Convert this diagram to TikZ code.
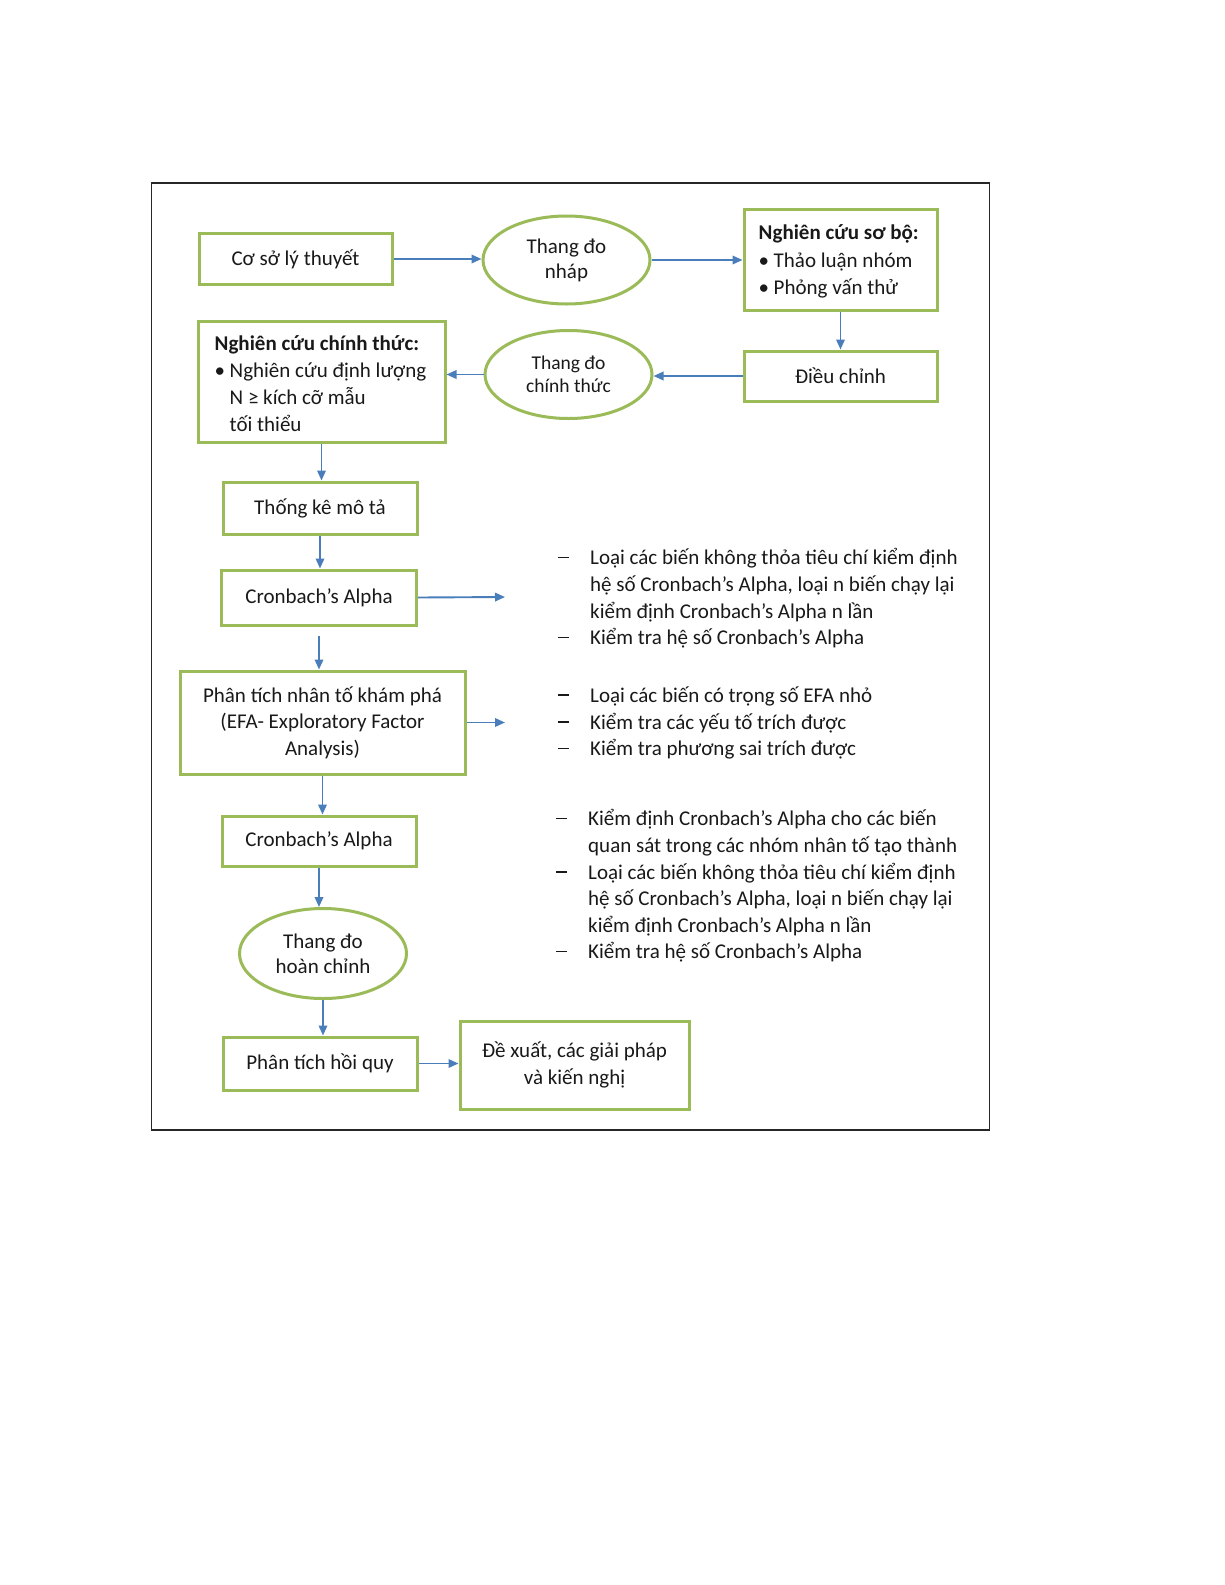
\documentclass[tikz,border=0pt]{standalone}
\usepackage{fontspec}
\setmainfont{Carlito}
\usetikzlibrary{shapes.geometric,arrows.meta}
\definecolor{boxgreen}{HTML}{9BBB59}
\definecolor{arrblue}{HTML}{4A7EBB}
\tikzset{
  stepbox/.style={draw=boxgreen, line width=3pt, fill=white, inner sep=0pt, text=black!90,
    font=\fontsize{21}{26.5}\selectfont, align=center},
  stepell/.style={ellipse, draw=boxgreen, line width=3pt, fill=white, inner sep=0pt, text=black!90,
    font=\fontsize{21}{25}\selectfont, align=center},
  boxtext/.style={inner sep=0pt, anchor=west, align=left, text=black!90, font=\fontsize{21}{27.5}\selectfont},
  arr/.style={draw=arrblue, line width=1.9pt, -{Triangle[length=10pt,width=8.5pt]}},
  notes/.style={inner sep=0pt, anchor=west, align=left, text=black!90, font=\fontsize{21}{26.6}\selectfont}
}
\newcommand{\dsh}{\makebox[32pt][l]{\rule[6.5pt]{10.5pt}{1.6pt}}}
\newcommand{\ind}{\hspace*{32pt}}
\newcommand{\bul}{\makebox[15pt][l]{•}}
\newcommand{\bind}{\hspace*{15pt}}
\begin{document}
\begin{tikzpicture}[x=1pt,y=-1pt]
\useasboundingbox (0,0) rectangle (1225,1585);
\fill[white] (0,0) rectangle (1225,1585);
\draw[line width=1.6pt, black!85] (151.5,183) rectangle (989.5,1130);

\node[stepbox, minimum width=193pt, minimum height=51pt] (cs) at (295.5,259) {Cơ sở lý thuyết};
\node[stepell, minimum width=167pt, minimum height=88pt] (e1) at (566.5,260) {Thang đo\\nháp};
\node[stepbox, minimum width=193pt, minimum height=101pt] (sb) at (840.5,259.5) {};
\node[boxtext] (sbt) at ([xshift=16pt,yshift=-2pt]sb.west)
  {\textbf{Nghiên cứu sơ bộ:}\\\bul Thảo luận nhóm\\\bul Phỏng vấn thử};
\node[stepbox, minimum width=193pt, minimum height=50pt] (dc) at (840.5,376) {Điều chỉnh};
\node[stepell, minimum width=167pt, minimum height=88pt, font=\fontsize{19.5}{23}\selectfont] (e2) at (568.5,374.5) {Thang đo\\chính thức};
\node[stepbox, minimum width=247pt, minimum height=121pt] (ct) at (321.5,381.5) {};
\node[boxtext, font=\fontsize{21}{26.8}\selectfont] (ctt) at ([xshift=18pt,yshift=-2pt]ct.west)
  {\textbf{Nghiên cứu chính thức:}\\\bul Nghiên cứu định lượng\\\bind N ≥ kích cỡ mẫu\\\bind tối thiểu};
\node[stepbox, minimum width=194pt, minimum height=52pt] (tk) at (320,508) {Thống kê mô tả};
\node[stepbox, minimum width=195pt, minimum height=55pt] (ca1) at (319,597.5) {Cronbach’s Alpha};
\node[stepbox, minimum width=285pt, minimum height=103pt] (efa) at (322.5,722.5) {Phân tích nhân tố khám phá\\(EFA- Exploratory Factor\\Analysis)};
\node[stepbox, minimum width=194pt, minimum height=50pt] (ca2) at (319,841) {Cronbach’s Alpha};
\node[stepell, minimum width=167pt, minimum height=90pt] (e3) at (323,953.5) {Thang đo\\hoàn chỉnh};
\node[stepbox, minimum width=194pt, minimum height=53pt] (hq) at (320,1063.5) {Phân tích hồi quy};
\node[stepbox, minimum width=229pt, minimum height=88pt] (dx) at (574.5,1065) {Đề xuất, các giải pháp\\và kiến nghị};

\coordinate (c1) at (505,597);
\coordinate (c2) at (505,722.5);

\node[notes] (n1) at (558,598.5) {\dsh Loại các biến không thỏa tiêu chí kiểm định\\
\ind hệ số Cronbach’s Alpha, loại n biến chạy lại\\
\ind kiểm định Cronbach’s Alpha n lần\\
\dsh Kiểm tra hệ số Cronbach’s Alpha};
\node[notes] (n2) at (558,723) {\dsh Loại các biến có trọng số EFA nhỏ\\
\dsh Kiểm tra các yếu tố trích được\\
\dsh Kiểm tra phương sai trích được};
\node[notes] (n3) at (556,886) {\dsh Kiểm định Cronbach’s Alpha cho các biến\\
\ind quan sát trong các nhóm nhân tố tạo thành\\
\dsh Loại các biến không thỏa tiêu chí kiểm định\\
\ind hệ số Cronbach’s Alpha, loại n biến chạy lại\\
\ind kiểm định Cronbach’s Alpha n lần\\
\dsh Kiểm tra hệ số Cronbach’s Alpha};

\draw[arr] (cs.east) -- (e1.west |- cs.east);
\draw[arr] (e1.east) -- (sb.west |- e1.east);
\draw[arr] (sb.south) -- (dc.north);
\draw[arr] (dc.west) -- (e2.east |- dc.west);
\draw[arr] (e2.west) -- (ct.east |- e2.west);
\draw[arr] (ct.south) -- (ct.south |- tk.north);
\draw[arr] (tk.south) -- (tk.south |- ca1.north);
\draw[arr, shorten <=9pt] (ca1.south) -- (ca1.south |- efa.north);
\draw[arr] (efa.south) -- (efa.south |- ca2.north);
\draw[arr] (ca2.south) -- (ca2.south |- e3.north);
\draw[arr] (e3.south) -- (e3.south |- hq.north);
\draw[arr] (hq.east) -- (dx.west |- hq.east);
\draw[arr] (ca1.east) -- (c1);
\draw[arr] (efa.east) -- (c2);
\end{tikzpicture}
\end{document}
